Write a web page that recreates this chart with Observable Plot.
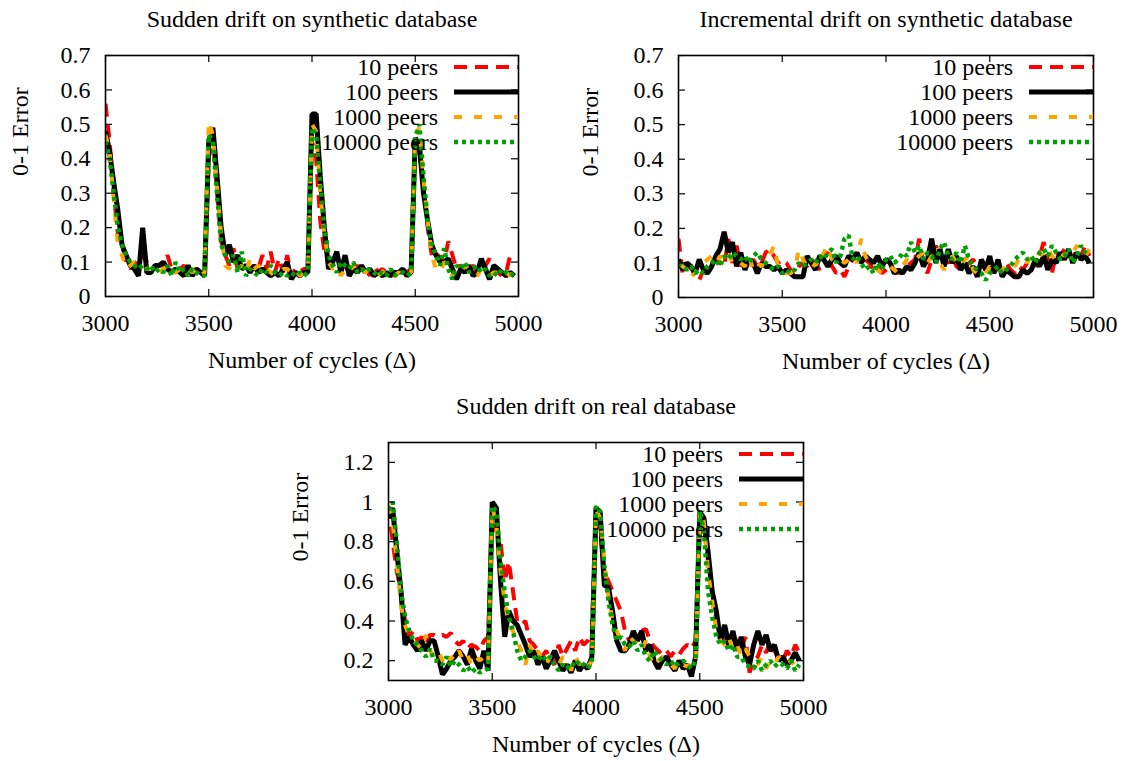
<!DOCTYPE html>
<html><head><meta charset="utf-8">
<script src="https://cdn.jsdelivr.net/npm/d3@7"></script>
<script src="https://cdn.jsdelivr.net/npm/@observablehq/plot@0.6"></script>
<style>
body{margin:0;background:#fff;}
#wrap{position:relative;width:1122px;height:761px;overflow:hidden;background:#fff;}
.panel{position:absolute;}
</style></head><body><div id="wrap"></div>
<script>
// ---------- data ----------
const cycles = d3.range(3000, 5000, 20); // sample positions (cycles)
const seriesNames = ["10 peers", "100 peers", "1000 peers", "10000 peers"];
const xTicks = [3000, 3500, 4000, 4500, 5000];
const yTicksSynthetic = [0, 0.1, 0.2, 0.3, 0.4, 0.5, 0.6, 0.7];
const yTicksReal = [0.2, 0.4, 0.6, 0.8, 1, 1.2];
const titles = ["Sudden drift on synthetic database", "Incremental drift on synthetic database", "Sudden drift on real database"];
const xLabel = "Number of cycles (\u0394)";
const yLabel = "0-1 Error";

// Panel 1: sudden drift, synthetic
const sudSyn10 = [
0.56,0.45,0.30,0.18,0.15,0.10,0.08,0.10,0.09,0.12,
0.10,0.09,0.08,0.09,0.09,0.12,0.08,0.07,0.08,0.09,
0.07,0.07,0.08,0.07,0.08,0.40,0.47,0.30,0.16,0.12,
0.09,0.14,0.08,0.10,0.09,0.08,0.09,0.08,0.12,0.08,
0.13,0.07,0.11,0.07,0.12,0.06,0.08,0.07,0.08,0.08,
0.45,0.40,0.22,0.13,0.11,0.09,0.10,0.08,0.09,0.07,
0.08,0.09,0.07,0.08,0.06,0.09,0.07,0.08,0.07,0.08,
0.06,0.07,0.08,0.07,0.08,0.44,0.42,0.32,0.20,0.12,
0.13,0.11,0.10,0.16,0.12,0.08,0.09,0.07,0.08,0.09,
0.07,0.10,0.09,0.11,0.08,0.07,0.06,0.07,0.12,0.11];
const sudSyn100 = [
0.48,0.42,0.33,0.25,0.15,0.12,0.09,0.08,0.06,0.20,
0.07,0.07,0.09,0.09,0.10,0.08,0.07,0.08,0.07,0.06,
0.09,0.06,0.08,0.07,0.06,0.45,0.49,0.35,0.20,0.12,
0.15,0.10,0.12,0.08,0.09,0.07,0.09,0.07,0.08,0.07,
0.06,0.07,0.06,0.08,0.10,0.05,0.07,0.06,0.07,0.07,
0.53,0.53,0.35,0.20,0.08,0.10,0.13,0.07,0.12,0.06,
0.08,0.07,0.09,0.07,0.08,0.06,0.07,0.06,0.07,0.06,
0.07,0.07,0.08,0.06,0.07,0.46,0.44,0.30,0.22,0.15,
0.12,0.10,0.10,0.11,0.08,0.05,0.08,0.07,0.09,0.06,
0.07,0.11,0.08,0.05,0.09,0.08,0.07,0.06,0.07,0.06];
const sudSyn1000 = [
0.47,0.42,0.28,0.15,0.12,0.08,0.09,0.10,0.09,0.08,
0.08,0.08,0.09,0.07,0.08,0.09,0.07,0.07,0.08,0.07,
0.08,0.07,0.08,0.06,0.07,0.51,0.47,0.32,0.18,0.09,
0.08,0.10,0.08,0.09,0.07,0.11,0.08,0.09,0.07,0.08,
0.07,0.06,0.07,0.08,0.08,0.07,0.08,0.06,0.07,0.08,
0.50,0.48,0.30,0.18,0.10,0.08,0.09,0.06,0.08,0.07,
0.09,0.07,0.08,0.07,0.08,0.07,0.06,0.07,0.08,0.07,
0.06,0.07,0.06,0.07,0.07,0.47,0.49,0.34,0.22,0.12,
0.08,0.07,0.10,0.09,0.06,0.08,0.07,0.09,0.08,0.07,
0.06,0.08,0.07,0.06,0.07,0.07,0.06,0.07,0.06,0.08];
const sudSyn10000 = [
0.45,0.40,0.30,0.20,0.15,0.12,0.10,0.09,0.08,0.09,
0.08,0.09,0.07,0.08,0.07,0.09,0.06,0.10,0.07,0.08,
0.06,0.08,0.07,0.06,0.06,0.47,0.45,0.30,0.15,0.12,
0.10,0.12,0.07,0.13,0.06,0.08,0.07,0.06,0.08,0.07,
0.09,0.07,0.06,0.07,0.06,0.07,0.06,0.07,0.06,0.07,
0.49,0.47,0.33,0.20,0.12,0.09,0.07,0.10,0.09,0.08,
0.10,0.07,0.08,0.07,0.08,0.07,0.06,0.07,0.06,0.08,
0.06,0.07,0.07,0.06,0.07,0.46,0.50,0.35,0.22,0.15,
0.12,0.09,0.14,0.08,0.05,0.09,0.08,0.10,0.07,0.08,
0.09,0.07,0.08,0.06,0.07,0.06,0.08,0.07,0.06,0.07];

// Panel 2: incremental drift, synthetic
const incSyn10 = [
0.17,0.07,0.08,0.09,0.06,0.05,0.08,0.09,0.10,0.11,
0.10,0.09,0.17,0.10,0.15,0.09,0.12,0.10,0.11,0.09,
0.10,0.13,0.14,0.12,0.10,0.11,0.10,0.08,0.07,0.09,
0.10,0.09,0.11,0.10,0.08,0.12,0.13,0.09,0.07,0.08,
0.06,0.09,0.11,0.12,0.10,0.11,0.10,0.08,0.09,0.07,
0.08,0.09,0.08,0.07,0.08,0.09,0.10,0.11,0.17,0.10,
0.07,0.11,0.15,0.12,0.11,0.10,0.12,0.09,0.08,0.09,
0.10,0.11,0.09,0.10,0.08,0.07,0.09,0.08,0.09,0.10,
0.08,0.07,0.09,0.08,0.10,0.11,0.09,0.12,0.16,0.11,
0.07,0.13,0.12,0.14,0.12,0.11,0.14,0.12,0.15,0.12];
const incSyn100 = [
0.11,0.08,0.10,0.09,0.07,0.11,0.08,0.07,0.09,0.12,
0.14,0.19,0.13,0.16,0.09,0.13,0.08,0.11,0.10,0.07,
0.10,0.09,0.09,0.08,0.09,0.07,0.08,0.07,0.06,0.06,
0.06,0.12,0.10,0.08,0.12,0.11,0.09,0.11,0.12,0.10,
0.09,0.12,0.11,0.13,0.10,0.12,0.11,0.10,0.12,0.09,
0.11,0.10,0.07,0.08,0.07,0.09,0.08,0.10,0.13,0.09,
0.11,0.17,0.10,0.14,0.09,0.14,0.10,0.12,0.08,0.10,
0.07,0.09,0.06,0.11,0.08,0.12,0.07,0.11,0.06,0.08,
0.07,0.06,0.06,0.08,0.07,0.08,0.11,0.09,0.12,0.08,
0.11,0.10,0.13,0.11,0.14,0.10,0.13,0.11,0.12,0.10];
const incSyn1000 = [
0.10,0.09,0.08,0.06,0.07,0.09,0.10,0.11,0.12,0.10,
0.12,0.11,0.13,0.10,0.11,0.10,0.09,0.12,0.08,0.10,
0.09,0.11,0.12,0.15,0.09,0.08,0.07,0.07,0.08,0.14,
0.11,0.09,0.08,0.10,0.09,0.13,0.15,0.11,0.10,0.11,
0.10,0.11,0.12,0.10,0.17,0.12,0.10,0.09,0.08,0.07,
0.08,0.09,0.08,0.07,0.09,0.11,0.10,0.11,0.12,0.13,
0.10,0.12,0.11,0.10,0.08,0.10,0.12,0.10,0.09,0.11,
0.12,0.08,0.07,0.08,0.07,0.09,0.08,0.07,0.08,0.09,
0.10,0.09,0.11,0.12,0.10,0.12,0.11,0.13,0.12,0.14,
0.12,0.11,0.13,0.12,0.14,0.13,0.15,0.13,0.12,0.14];
const incSyn10000 = [
0.10,0.09,0.08,0.09,0.07,0.08,0.07,0.09,0.10,0.11,
0.09,0.12,0.11,0.13,0.12,0.11,0.12,0.10,0.12,0.13,
0.11,0.10,0.09,0.08,0.09,0.07,0.08,0.07,0.08,0.10,
0.09,0.10,0.11,0.10,0.12,0.11,0.13,0.14,0.10,0.12,
0.17,0.18,0.11,0.12,0.10,0.08,0.09,0.07,0.10,0.08,
0.11,0.12,0.10,0.11,0.13,0.12,0.16,0.13,0.15,0.11,
0.13,0.12,0.10,0.14,0.16,0.12,0.11,0.13,0.10,0.15,
0.11,0.09,0.08,0.07,0.05,0.07,0.08,0.09,0.07,0.08,
0.09,0.11,0.12,0.13,0.11,0.12,0.10,0.13,0.14,0.12,
0.15,0.13,0.11,0.12,0.14,0.10,0.12,0.15,0.13,0.12];

// Panel 3: sudden drift, real
const sudReal10 = [
0.98,0.80,0.65,0.55,0.40,0.32,0.35,0.30,0.32,0.28,
0.33,0.33,0.32,0.33,0.32,0.34,0.30,0.28,0.30,0.26,
0.28,0.27,0.25,0.30,0.32,0.95,0.85,0.80,0.60,0.70,
0.55,0.40,0.38,0.40,0.30,0.28,0.25,0.22,0.25,0.20,
0.18,0.28,0.22,0.26,0.30,0.25,0.32,0.28,0.30,0.35,
0.90,0.85,0.65,0.60,0.55,0.50,0.45,0.35,0.30,0.33,
0.35,0.35,0.36,0.30,0.27,0.25,0.23,0.25,0.22,0.25,
0.23,0.26,0.28,0.26,0.30,0.93,0.88,0.70,0.55,0.40,
0.35,0.30,0.28,0.32,0.30,0.25,0.32,0.14,0.20,0.22,
0.28,0.24,0.30,0.25,0.22,0.20,0.25,0.22,0.28,0.24];
const sudReal100 = [
0.92,0.97,0.75,0.55,0.28,0.32,0.28,0.25,0.30,0.25,
0.30,0.30,0.22,0.13,0.16,0.20,0.22,0.25,0.22,0.18,
0.26,0.20,0.16,0.25,0.15,1.00,0.97,0.60,0.32,0.45,
0.40,0.38,0.33,0.28,0.22,0.25,0.18,0.22,0.16,0.20,
0.25,0.20,0.15,0.18,0.14,0.20,0.15,0.18,0.16,0.22,
0.97,0.95,0.58,0.57,0.45,0.30,0.25,0.25,0.28,0.35,
0.30,0.35,0.25,0.28,0.20,0.16,0.20,0.22,0.18,0.15,
0.20,0.16,0.18,0.12,0.22,0.95,0.92,0.75,0.55,0.45,
0.30,0.38,0.28,0.35,0.25,0.32,0.22,0.18,0.28,0.35,
0.28,0.33,0.25,0.28,0.20,0.22,0.18,0.20,0.24,0.20];
const sudReal1000 = [
0.98,0.90,0.70,0.48,0.38,0.32,0.30,0.28,0.26,0.33,
0.25,0.22,0.25,0.20,0.17,0.22,0.20,0.25,0.20,0.23,
0.18,0.22,0.20,0.22,0.18,0.98,0.88,0.65,0.50,0.38,
0.35,0.30,0.25,0.18,0.28,0.22,0.25,0.20,0.18,0.22,
0.20,0.18,0.22,0.20,0.15,0.22,0.18,0.20,0.17,0.20,
0.96,0.92,0.70,0.52,0.40,0.35,0.30,0.25,0.32,0.30,
0.28,0.25,0.30,0.22,0.17,0.20,0.22,0.20,0.18,0.16,
0.20,0.18,0.17,0.19,0.18,0.96,0.90,0.65,0.50,0.35,
0.30,0.28,0.32,0.25,0.28,0.22,0.26,0.22,0.20,0.18,
0.22,0.16,0.20,0.18,0.22,0.20,0.18,0.20,0.17,0.20];
const sudReal10000 = [
0.96,1.00,0.80,0.55,0.42,0.35,0.30,0.28,0.25,0.22,
0.26,0.20,0.20,0.18,0.22,0.17,0.20,0.18,0.15,0.17,
0.14,0.16,0.14,0.15,0.16,0.98,0.95,0.70,0.55,0.42,
0.35,0.25,0.20,0.22,0.25,0.22,0.20,0.23,0.20,0.22,
0.18,0.15,0.18,0.16,0.19,0.17,0.20,0.18,0.16,0.19,
0.98,0.95,0.68,0.50,0.38,0.30,0.32,0.28,0.27,0.30,
0.25,0.28,0.22,0.20,0.25,0.22,0.20,0.18,0.20,0.17,
0.19,0.20,0.18,0.16,0.20,0.96,0.85,0.55,0.42,0.32,
0.28,0.30,0.25,0.28,0.22,0.22,0.18,0.17,0.16,0.20,
0.15,0.18,0.20,0.17,0.19,0.18,0.16,0.20,0.15,0.18];

// ---------- styles ----------
const FONT = "Liberation Serif, Times New Roman, serif";
const FS = 24;
const lineStyles = [
  {stroke: "#ff0000", strokeWidth: 4, strokeDasharray: "13,8"},
  {stroke: "#000000", strokeWidth: 5, strokeDasharray: null},
  {stroke: "#ffa500", strokeWidth: 4, strokeDasharray: "8,12"},
  {stroke: "#00a000", strokeWidth: 4.5, strokeDasharray: "4,4"}
];

function makePanel(cfg) {
  const {left, top, width, height, mt, mr, mb, ml, yDomain, yTicks, series, title, ylabDx} = cfg;
  const fw = width - ml - mr, fh = height - mt - mb;
  const marks = [];
  series.forEach((vals, k) => {
    const data = cycles.map((c, i) => ({cycle: c, error: vals[i], name: seriesNames[k]}));
    const st = lineStyles[k];
    const opts = {x: "cycle", y: "error", stroke: st.stroke, strokeWidth: st.strokeWidth,
      strokeLinejoin: "miter", strokeLinecap: "butt", clip: true};
    if (st.strokeDasharray) opts.strokeDasharray = st.strokeDasharray;
    marks.push(Plot.line(data, opts));
  });
  // inward ticks on all four sides (gnuplot style)
  marks.push(Plot.tickY(yTicks, {y: d => d, insetRight: fw - 7, stroke: "black", strokeWidth: 1.2}));
  marks.push(Plot.tickY(yTicks, {y: d => d, insetLeft: fw - 7, stroke: "black", strokeWidth: 1.2}));
  marks.push(Plot.tickX(xTicks, {x: d => d, insetTop: fh - 7, stroke: "black", strokeWidth: 1.2}));
  marks.push(Plot.tickX(xTicks, {x: d => d, insetBottom: fh - 7, stroke: "black", strokeWidth: 1.2}));
  marks.push(Plot.axisX(xTicks, {tickSize: 0, tickPadding: 17, fontSize: FS, label: null, fill: "black", tickFormat: d => String(d)}));
  marks.push(Plot.axisY(yTicks, {tickSize: 0, tickPadding: 15, fontSize: FS, label: null, fill: "black", tickFormat: d => String(d)}));
  marks.push(Plot.frame({stroke: "black", strokeWidth: 1.6}));
  marks.push(Plot.text([title], {text: d => d, frameAnchor: "top", dy: -36, fontSize: FS, fill: "black", lineAnchor: "middle"}));
  marks.push(Plot.text([xLabel], {text: d => d, frameAnchor: "bottom", dy: 64, fontSize: FS, fill: "black", lineAnchor: "middle"}));
  marks.push(Plot.text([yLabel], {text: d => d, frameAnchor: "left", dx: ylabDx, rotate: -90, fontSize: FS, fill: "black", lineAnchor: "middle"}));

  const svg = Plot.plot({
    width, height, marginTop: mt, marginRight: mr, marginBottom: mb, marginLeft: ml,
    x: {domain: [3000, 5000], axis: null},
    y: {domain: yDomain, axis: null},
    style: {fontFamily: FONT, fontSize: FS + "px", background: "white", color: "black", overflow: "visible"},
    marks
  });

  // legend inside top-right corner of the frame
  const right = width - mr;
  const g = d3.select(svg).append("g").attr("font-family", FONT).attr("font-size", FS);
  seriesNames.forEach((name, k) => {
    const yy = mt + 12 + 25 * k;
    g.append("text").attr("x", right - 80).attr("y", yy).attr("dy", "0.35em")
      .attr("text-anchor", "end").attr("fill", "black").text(name);
    const st = lineStyles[k];
    const ln = g.append("line").attr("x1", right - 64).attr("x2", right).attr("y1", yy).attr("y2", yy)
      .attr("stroke", st.stroke).attr("stroke-width", st.strokeWidth);
    if (st.strokeDasharray) ln.attr("stroke-dasharray", st.strokeDasharray);
  });

  const div = document.createElement("div");
  div.className = "panel";
  div.style.left = left + "px";
  div.style.top = top + "px";
  div.appendChild(svg);
  document.getElementById("wrap").appendChild(div);
}

makePanel({left: 0, top: 0, width: 560, height: 385, mt: 55, mr: 42, mb: 89, ml: 105,
  yDomain: [0, 0.7], yTicks: yTicksSynthetic, series: [sudSyn10, sudSyn100, sudSyn1000, sudSyn10000],
  title: titles[0], ylabDx: -85});
makePanel({left: 561, top: 0, width: 561, height: 385, mt: 55, mr: 29, mb: 88, ml: 117,
  yDomain: [0, 0.7], yTicks: yTicksSynthetic, series: [incSyn10, incSyn100, incSyn1000, incSyn10000],
  title: titles[1], ylabDx: -88});
makePanel({left: 280, top: 385, width: 560, height: 376, mt: 57, mr: 37, mb: 81, ml: 108,
  yDomain: [0.1, 1.3], yTicks: yTicksReal, series: [sudReal10, sudReal100, sudReal1000, sudReal10000],
  title: titles[2], ylabDx: -88});
</script></body></html>
